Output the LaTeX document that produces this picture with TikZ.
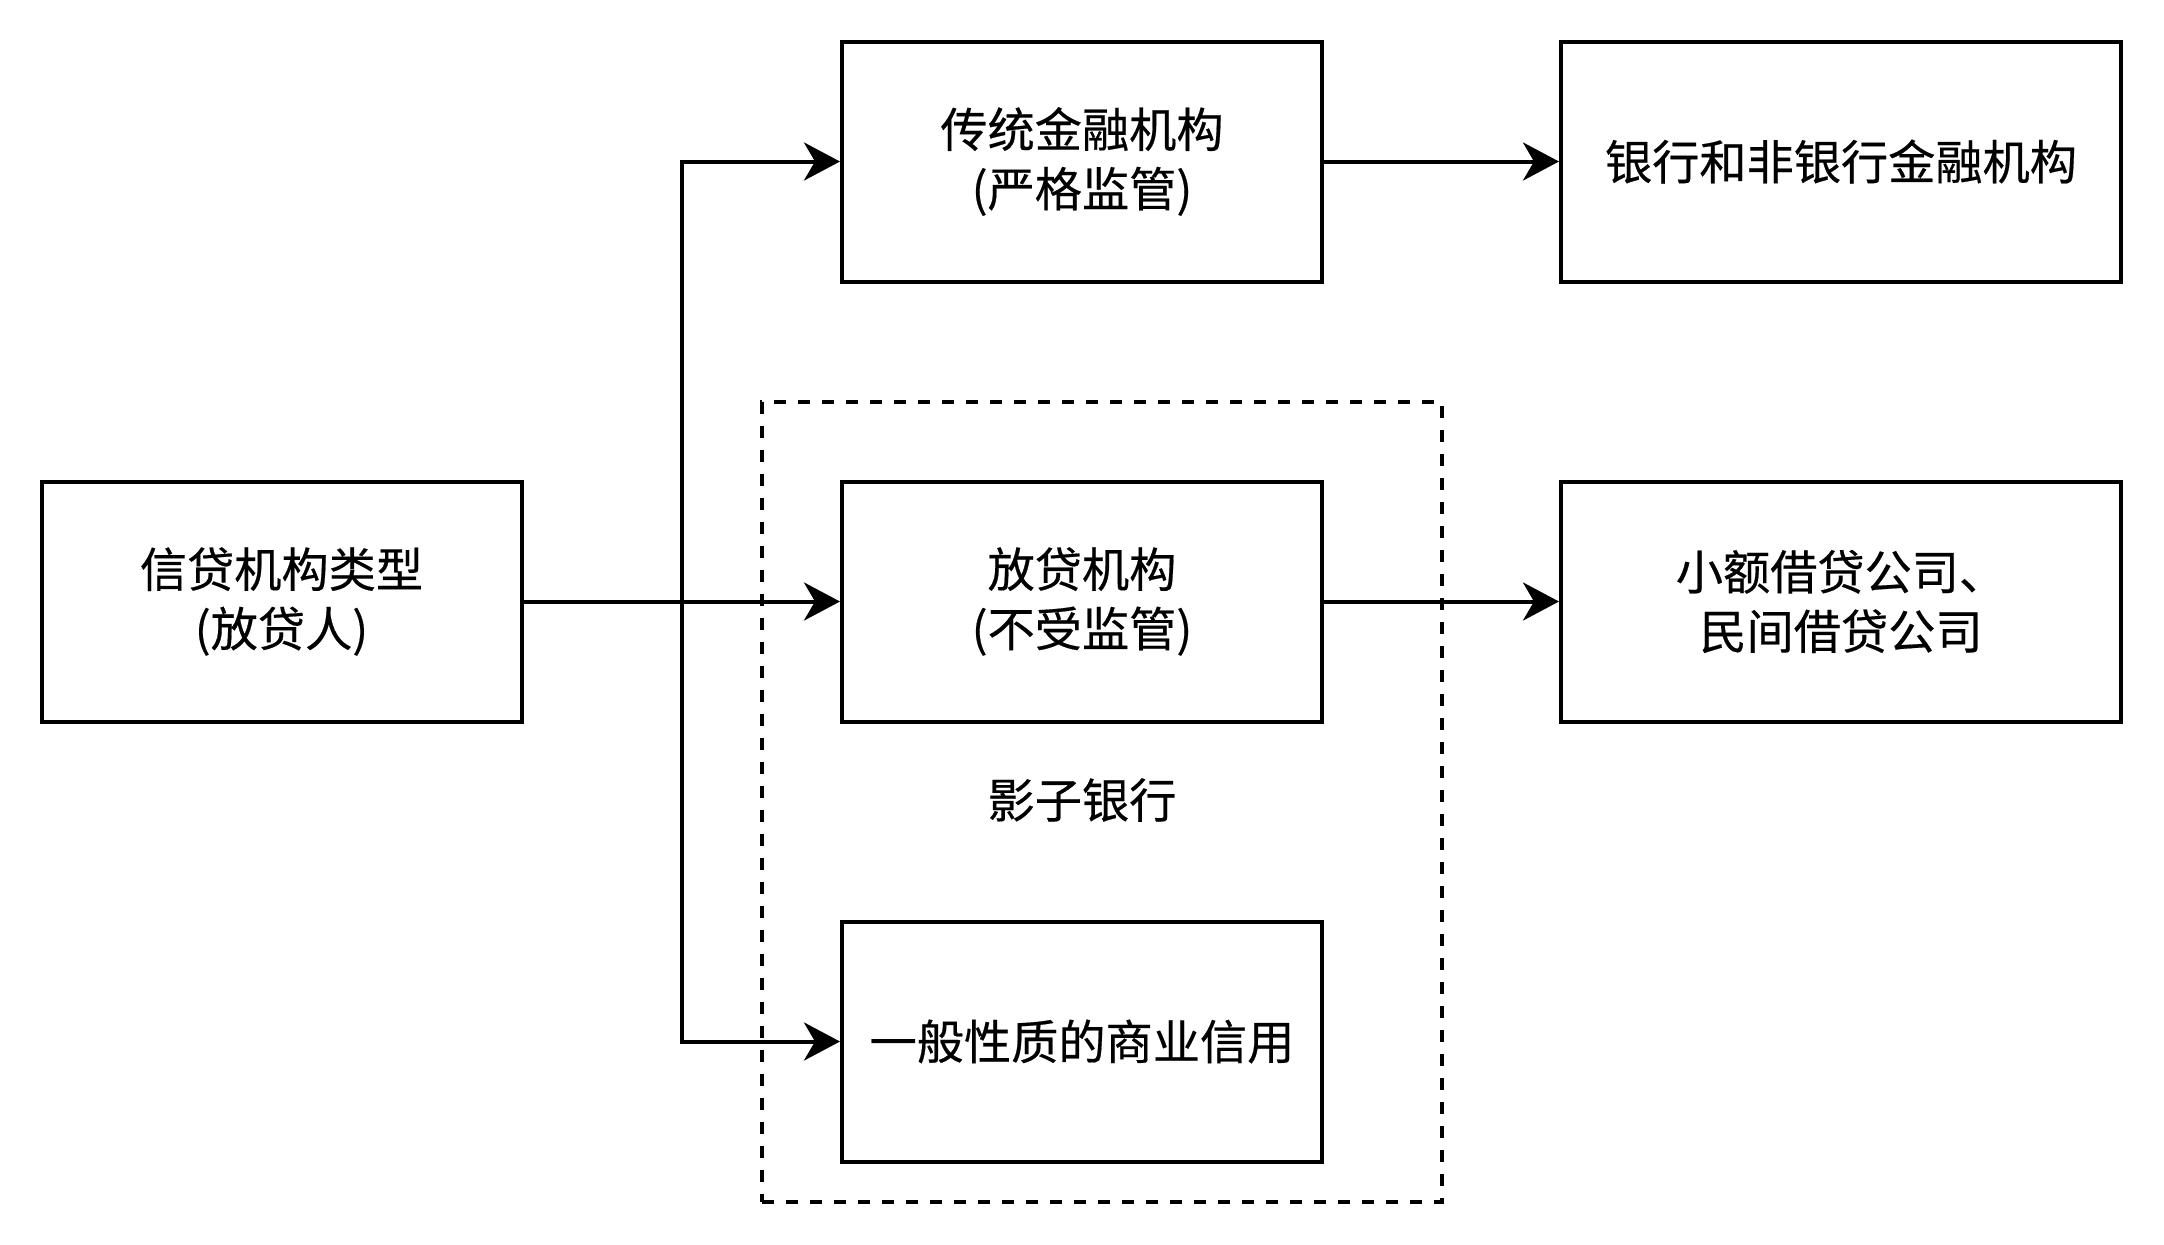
\documentclass[tikz,border=0pt]{standalone}
\usepackage{fontspec}
\newfontfamily\cjk[FakeBold=0.4]{Noto Sans CJK SC}
\usetikzlibrary{arrows.meta}

\begin{document}
\begin{tikzpicture}[x=0.5pt,y=-0.5pt,
  instbox/.style={draw,line width=2pt,minimum width=240pt,minimum height=120pt,
    inner sep=0pt,align=center,font=\cjk\fontsize{23.6pt}{29.7pt}\selectfont},
  widebox/.style={instbox,minimum width=280pt},
  link/.style={line width=2pt,-{Stealth[length=18pt,width=19pt,inset=5.5pt]}}]
\useasboundingbox (0,0) rectangle (2164,1244);

% shadow banking group
\node[draw,dashed,dash pattern=on 6pt off 6pt,line width=2pt,minimum width=340pt,
  minimum height=400pt,inner sep=0pt] (shadow) at (1102,801.5) {};
\node[font=\cjk\fontsize{23.6pt}{29.7pt}\selectfont] (shadowlabel) at (1082,800) {影子银行};

\node[instbox] (lender) at (281.5,601.5) {信贷机构类型\\(放贷人)};
\node[instbox] (trad) at (1082,161.5) {传统金融机构\\(严格监管)};
\node[instbox] (loan) at (1082,601.5) {放贷机构\\(不受监管)};
\node[instbox] (credit) at (1082,1041.5) {一般性质的商业信用};
\node[widebox] (bank) at (1841,161.5) {银行和非银行金融机构};
\node[widebox] (small) at (1841,601.5) {小额借贷公司、\\民间借贷公司};

\coordinate (split) at (682,601.5);
\draw[link] (lender) -- (loan);
\draw[link] (split) |- (trad.west);
\draw[link] (split) |- (credit.west);
\draw[link] (trad) -- (bank);
\draw[link] (loan) -- (small);
\end{tikzpicture}
\end{document}
